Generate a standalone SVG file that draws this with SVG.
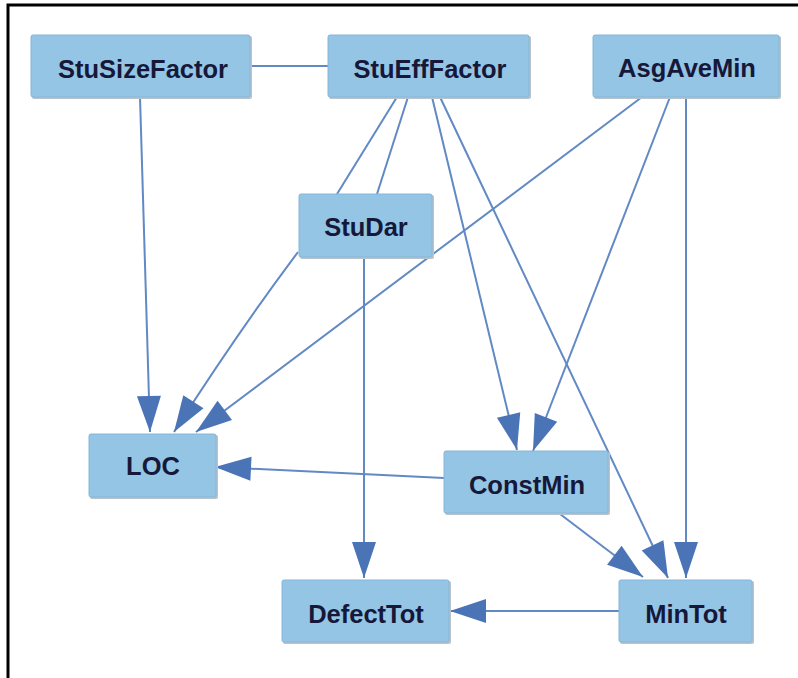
<svg xmlns="http://www.w3.org/2000/svg" width="798" height="678" viewBox="0 0 798 678">
  <style>
    .frame { stroke: #000; stroke-width: 3; fill: none; }
    .node rect.box { fill: #95c5e4; stroke: #86b6d8; stroke-width: 1; }
    .node rect.shade { fill: #b9c3cc; }
    .node text { font-family: "Liberation Sans", Arial, sans-serif; font-weight: bold; font-size: 25.5px; fill: #16183a; text-anchor: middle; }
    .edge { stroke: #6189c4; stroke-width: 2; fill: none; }
    .arrow { marker-end: url(#head); }
  </style>
  <defs>
    <marker id="head" markerUnits="userSpaceOnUse" markerWidth="36" markerHeight="24" refX="36" refY="12" orient="auto" overflow="visible">
      <path d="M0,0 L36,12 L0,24 Z" fill="#4a74b6"/>
    </marker>
  </defs>

  <rect width="798" height="678" fill="#fff"/>

  <!-- frame: top and left rules only -->
  <path class="frame" d="M8,678 V5 H798"/>

  <g id="connectors">
    <path class="edge" d="M251,66 H328"/>
    <path class="edge arrow" d="M140,97 L150,432"/>
    <path class="edge" d="M397,97 L337,194"/>
    <path class="edge" d="M408,97 L377,194"/>
    <path class="edge arrow" d="M432,97 L517,450"/>
    <path class="edge arrow" d="M440,97 L668,578"/>
    <path class="edge arrow" d="M642,97 L196,432"/>
    <path class="edge arrow" d="M670,97 L533,451"/>
    <path class="edge arrow" d="M686,97 L686,578"/>
    <path class="edge arrow" d="M298,252 Q238,332 174,432"/>
    <path class="edge arrow" d="M364,257 L364,578"/>
    <path class="edge arrow" d="M444,478 L215,467"/>
    <path class="edge arrow" d="M560,514 L643,577"/>
    <path class="edge arrow" d="M619,611 L450,611"/>
  </g>

  <g id="StuSizeFactor" class="node">
    <rect class="shade" x="32" y="36" width="220" height="63" rx="2"/>
    <rect class="box" x="31" y="35" width="219" height="62" rx="2"/>
    <text x="143" y="78">StuSizeFactor</text>
  </g>
  <g id="StuEffFactor" class="node">
    <rect class="shade" x="329" y="36" width="202" height="63" rx="2"/>
    <rect class="box" x="328" y="35" width="201" height="62" rx="2"/>
    <text x="430" y="78">StuEffFactor</text>
  </g>
  <g id="AsgAveMin" class="node">
    <rect class="shade" x="594" y="36" width="187" height="63" rx="2"/>
    <rect class="box" x="593" y="35" width="186" height="62" rx="2"/>
    <text x="687" y="77">AsgAveMin</text>
  </g>
  <g id="StuDar" class="node">
    <rect class="shade" x="300" y="195" width="134" height="64" rx="2"/>
    <rect class="box" x="299" y="194" width="133" height="63" rx="2"/>
    <text x="366" y="236">StuDar</text>
  </g>
  <g id="LOC" class="node">
    <rect class="shade" x="90" y="435" width="128" height="64" rx="2"/>
    <rect class="box" x="89" y="434" width="127" height="63" rx="2"/>
    <text x="153" y="475">LOC</text>
  </g>
  <g id="ConstMin" class="node">
    <rect class="shade" x="445" y="452" width="165" height="63" rx="2"/>
    <rect class="box" x="444" y="451" width="164" height="62" rx="2"/>
    <text x="527" y="494">ConstMin</text>
  </g>
  <g id="DefectTot" class="node">
    <rect class="shade" x="283" y="581" width="168" height="63" rx="2"/>
    <rect class="box" x="282" y="580" width="167" height="62" rx="2"/>
    <text x="366" y="623">DefectTot</text>
  </g>
  <g id="MinTot" class="node">
    <rect class="shade" x="620" y="581" width="134" height="63" rx="2"/>
    <rect class="box" x="619" y="580" width="133" height="62" rx="2"/>
    <text x="686" y="623">MinTot</text>
  </g>
</svg>
